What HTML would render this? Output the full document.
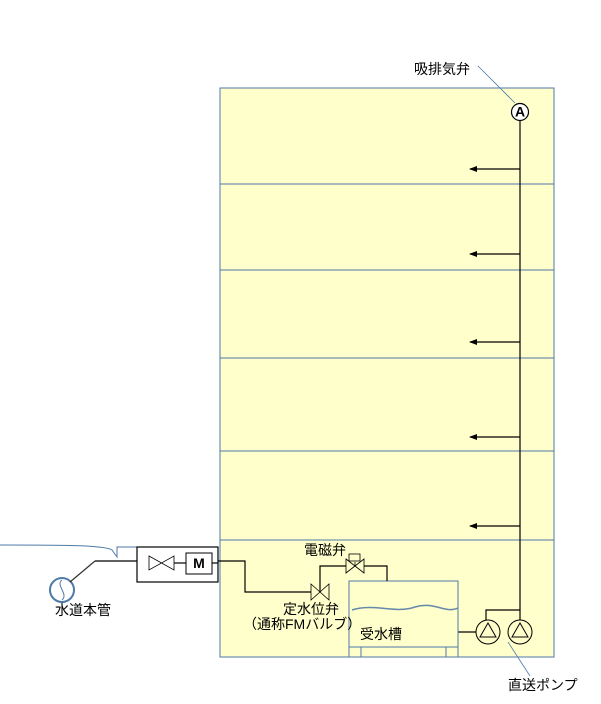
<!DOCTYPE html>
<html><head><meta charset="utf-8"><style>body{margin:0;background:#fff}svg{display:block}text{font-family:"Liberation Sans","Noto Sans CJK JP",sans-serif;font-size:14px;fill:#000}</style></head><body>
<svg width="601" height="704" viewBox="0 0 601 704">
<defs><marker id="ar" markerWidth="8" markerHeight="8" refX="7" refY="4" orient="auto" markerUnits="userSpaceOnUse"><path d="M0,1 L8,4 L0,7z" fill="#000"/></marker></defs>
<rect x="220" y="88" width="334" height="569" fill="#FFFFCC" stroke="#4F7AA8" stroke-width="1"/>
<g stroke="#4F7AA8" stroke-width="1">
<line x1="220" y1="184" x2="554" y2="184"/><line x1="220" y1="270" x2="554" y2="270"/><line x1="220" y1="358" x2="554" y2="358"/><line x1="220" y1="451" x2="554" y2="451"/><line x1="220" y1="540" x2="554" y2="540"/>
</g>
<g stroke="#000" stroke-width="1.2" fill="none">
<line x1="520" y1="120" x2="520" y2="610"/>
<line x1="520" y1="169" x2="470" y2="169" marker-end="url(#ar)"/>
<line x1="520" y1="254" x2="470" y2="254" marker-end="url(#ar)"/>
<line x1="520" y1="342" x2="470" y2="342" marker-end="url(#ar)"/>
<line x1="520" y1="437" x2="470" y2="437" marker-end="url(#ar)"/>
<line x1="520" y1="526" x2="470" y2="526" marker-end="url(#ar)"/>
<polyline points="486,620 486,610 520,610 520,620"/>
<line x1="458" y1="632" x2="476" y2="632"/>
<circle cx="520" cy="112" r="8.5" fill="#fff"/>
</g>
<text x="520" y="116.5" font-size="12" font-weight="bold" text-anchor="middle">A</text>
<g stroke="#000" stroke-width="1" fill="none">
<circle cx="488" cy="632" r="12"/><circle cx="520" cy="632" r="12"/>
<path d="M480,637 L488,623 L496,637Z"/><path d="M512,637 L520,623 L528,637Z"/>
</g>
<g stroke="#4F7AA8" stroke-width="1" fill="none">
<rect x="349" y="581" width="109" height="76"/>
<line x1="349" y1="647" x2="458" y2="647"/><line x1="361" y1="647" x2="361" y2="657"/><line x1="446" y1="647" x2="446" y2="657"/>
<path d="M352,610 C375,603 395,614 415,607 C435,601 445,614 458,608" stroke="#6688AA" stroke-width="1.5"/>
<path d="M0,545 C60,545 105,545 112,550 L117,557 L117,547 L137,547"/>
<circle cx="62" cy="590" r="12" stroke-width="2"/>
<path d="M62,580 C55,585 69,594 62,600"/>
<line x1="478" y1="66" x2="515" y2="103" stroke-width="0.8"/>
<line x1="508" y1="642" x2="530" y2="676" stroke-width="0.8"/>
</g>
<g stroke="#000" stroke-width="1.2" fill="none">
<line x1="70" y1="582" x2="95" y2="561" stroke="#333"/>
<line x1="95" y1="561" x2="137" y2="561"/>
<rect x="137" y="547" width="81" height="35"/>
<path d="M149,556 L174,570 L174,556 L149,570Z" stroke-width="0.8"/>
<line x1="174" y1="563" x2="186" y2="563"/>
<rect x="186" y="553" width="26" height="21" stroke-width="1"/>
<line x1="212" y1="563" x2="218" y2="563"/>
<polyline points="218,561 245,561 245,592 311,592"/>
<path d="M311,584 L329,600 L329,584 L311,600Z" stroke-width="0.8"/>
<polyline points="320,592 320,566 346,566"/>
<path d="M346,559 L364,573 L364,559 L346,573Z" stroke-width="0.8"/>
<line x1="355" y1="566" x2="355" y2="562" stroke-width="0.8"/>
<rect x="349" y="554" width="11" height="7" stroke-width="0.8"/>
<polyline points="364,566 387,566 387,581"/>
</g>
<text x="199" y="568" font-size="11" font-weight="bold" text-anchor="middle">M</text>
<text x="414" y="74">吸排気弁</text>
<text x="304" y="555">電磁弁</text>
<text x="283" y="614">定水位弁</text>
<text x="243" y="629">（通称FMバルブ）</text>
<text x="360" y="639">受水槽</text>
<text x="55" y="615">水道本管</text>
<text x="508" y="690">直送ポンプ</text>
</svg>
</body></html>
